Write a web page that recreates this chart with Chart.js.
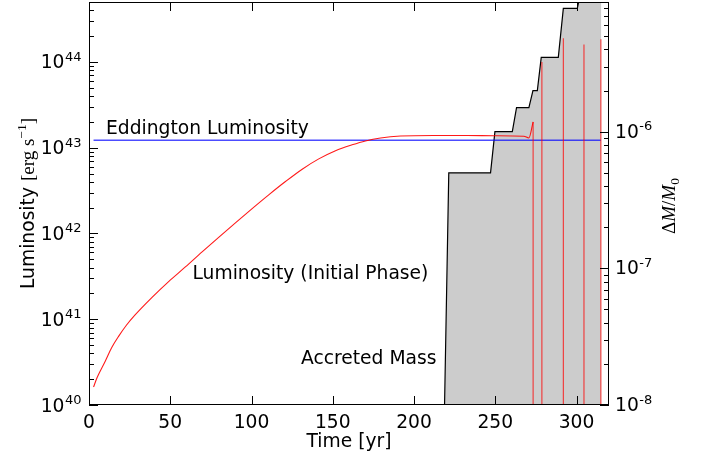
<!DOCTYPE html>
<html lang="en">
<head>
<meta charset="UTF-8">
<title>Luminosity and Accreted Mass</title>
<script src="https://cdn.jsdelivr.net/npm/chart.js"></script>
<style>
  html, body { margin: 0; padding: 0; background: #fff; }
</style>
</head>
<body>
<canvas id="chart" width="706" height="456"></canvas>
<script>
// luminosity [erg/s] against time [yr] in the initial phase
const lumTime = [2.8, 5, 10, 14, 18.2, 23, 28.5, 38.8, 49, 59.3, 69.6, 79.8, 90.1, 100.4, 110.6, 120.9, 131.2,
                 141.4, 151.7, 161.9, 170.1, 179.4, 191.7, 212, 233, 249, 267.6, 270.7, 273.3];
const lumValue = [1.62e40, 2.09e40, 3.24e40, 4.68e40, 6.31e40, 8.51e40, 1.13e41, 1.80e41, 2.75e41, 4.07e41,
                  6.10e41, 9.02e41, 1.33e42, 1.95e42, 2.82e42, 4.03e42, 5.62e42, 7.41e42, 9.23e42, 1.08e43,
                  1.20e43, 1.30e43, 1.37e43, 1.39e43, 1.39e43, 1.38e43, 1.36e43, 1.30e43, 2.0e43];

// later outbursts (luminosity drops far below the axis between them)
const burstTime = [273.3, 273.3, 278.7, 278.7, 278.7, 291.9, 291.9, 291.9, 304.6, 304.6, 304.6, 315.0, 315.0, 315.0];
const burstValue = [2.0e43, 1e36, 1e36, 1.0e44, 1e36, 1e36, 1.89e44, 1e36, 1e36, 1.6e44, 1e36, 1e36, 1.84e44, 1e36];

// Eddington luminosity
const eddTime = [2.8, 315];
const eddValue = [1.225e43, 1.225e43];

// accreted mass dM/M0 (right axis)
const massTime = [218.8, 221.4, 247.1, 249.8, 260.5, 263.1, 270.7, 273.2, 275.9, 278.3, 288.8, 291.9, 300.5, 303, 315.3];
const massValue = [1e-8, 5.0e-7, 5.0e-7, 1.0e-6, 1.0e-6, 1.5e-6, 1.5e-6, 2.0e-6, 2.0e-6, 3.5e-6, 3.5e-6,
                   8.0e-6, 8.0e-6, 1.1e-5, 1.1e-5];

// ticks
const timeTicks = [0, 50, 100, 150, 200, 250, 300];
const lumDecades = [40, 41, 42, 43, 44];
const massDecades = [-8, -7, -6];

const SANS = '"DejaVu Sans", sans-serif';
const SERIF = '"Liberation Serif", "DejaVu Serif", serif';
const FS = 18.7;

function pts(xs, ys) {
    return xs.map((x, i) => ({ x: x, y: ys[i] }));
}

function minorTicks(decades, max) {
    const out = [];
    decades.forEach(d => {
        for (let k = 2; k <= 9; k++) {
            const v = k * Math.pow(10, d);
            if (v < max) out.push(v);
        }
    });
    return out;
}

function power(ctx, exp, x, y, align) {
    ctx.font = FS + 'px ' + SANS;
    const wb = ctx.measureText('10').width;
    ctx.font = '13px ' + SANS;
    const we = ctx.measureText(exp).width;
    const x0 = align === 'right' ? x - wb - we : x;
    ctx.textAlign = 'left';
    ctx.textBaseline = 'alphabetic';
    ctx.font = FS + 'px ' + SANS;
    ctx.fillText('10', x0, y);
    ctx.font = '13px ' + SANS;
    ctx.fillText(exp, x0 + wb + 0.5, y - 7.5);
}

// draw pieces of text along the baseline, centred on 0
function pieces(ctx, parts) {
    let total = 0;
    parts.forEach(p => { ctx.font = p.font; p.w = ctx.measureText(p.text).width; total += p.w; });
    let x = -total / 2;
    parts.forEach(p => {
        ctx.font = p.font;
        ctx.fillText(p.text, x, p.dy || 0);
        x += p.w;
    });
}

const decor = {
    id: 'decor',
    afterDatasetsDraw(chart) {
        const ctx = chart.ctx;
        const a = chart.chartArea;
        const sx = chart.scales.x, sy = chart.scales.y, sy2 = chart.scales.y2;
        ctx.save();
        ctx.strokeStyle = '#000';
        ctx.fillStyle = '#000';
        ctx.lineWidth = 1;

        ctx.beginPath();
        timeTicks.forEach(t => {
            const px = Math.round(sx.getPixelForValue(t)) + 0.5;
            ctx.moveTo(px, a.bottom); ctx.lineTo(px, a.bottom - 9);
            ctx.moveTo(px, a.top); ctx.lineTo(px, a.top + 9);
        });
        lumDecades.forEach(d => {
            const py = Math.round(sy.getPixelForValue(Math.pow(10, d))) + 0.5;
            ctx.moveTo(a.left, py); ctx.lineTo(a.left + 9, py);
        });
        minorTicks(lumDecades, sy.max).forEach(v => {
            const py = Math.round(sy.getPixelForValue(v)) + 0.5;
            ctx.moveTo(a.left, py); ctx.lineTo(a.left + 5, py);
        });
        massDecades.forEach(d => {
            const py = Math.round(sy2.getPixelForValue(Math.pow(10, d))) + 0.5;
            ctx.moveTo(a.right, py); ctx.lineTo(a.right - 9, py);
        });
        minorTicks(massDecades, sy2.max).forEach(v => {
            const py = Math.round(sy2.getPixelForValue(v)) + 0.5;
            ctx.moveTo(a.right, py); ctx.lineTo(a.right - 5, py);
        });
        ctx.stroke();
        ctx.strokeRect(a.left + 0.5, a.top + 0.5, a.right - a.left - 1, a.bottom - a.top - 1);

        // tick labels
        lumDecades.forEach(d => {
            const py = sy.getPixelForValue(Math.pow(10, d));
            power(ctx, String(d), a.left - 8, py + 6.5, 'right');
        });
        massDecades.forEach(d => {
            const py = sy2.getPixelForValue(Math.pow(10, d));
            power(ctx, String(d), a.right + 6, py + 6, 'left');
        });

        // annotations
        ctx.font = FS + 'px ' + SANS;
        ctx.textAlign = 'left';
        ctx.textBaseline = 'alphabetic';
        ctx.fillText('Eddington Luminosity', 106, 134);
        ctx.fillText('Luminosity (Initial Phase)', 192.5, 279);
        ctx.fillText('Accreted Mass', 301, 364);

        // axis titles
        ctx.save();
        ctx.translate(33.5, (a.top + a.bottom) / 2);
        ctx.rotate(-Math.PI / 2);
        pieces(ctx, [
            { text: 'Luminosity ', font: FS + 'px ' + SANS },
            { text: '[erg s', font: '19px ' + SERIF },
            { text: '\u22121', font: '13.5px ' + SERIF, dy: -8 },
            { text: ']', font: '19px ' + SERIF }
        ]);
        ctx.restore();

        ctx.save();
        ctx.translate(675, 206);
        ctx.rotate(-Math.PI / 2);
        pieces(ctx, [
            { text: '\u0394', font: '19px ' + SERIF },
            { text: 'M', font: 'italic 19px ' + SERIF },
            { text: '/', font: '19px ' + SERIF },
            { text: 'M', font: 'italic 19px ' + SERIF },
            { text: '0', font: '13.5px ' + SERIF, dy: 4 }
        ]);
        ctx.restore();

        ctx.restore();
    }
};

new Chart(document.getElementById('chart'), {
    type: 'line',
    data: {
        datasets: [
            {
                label: 'Luminosity',
                data: pts(lumTime, lumValue),
                yAxisID: 'y',
                borderColor: 'rgba(255, 0, 0, 0.9)',
                borderWidth: 1.1,
                pointRadius: 0,
                cubicInterpolationMode: 'monotone',
                fill: false,
                order: 1
            },
            {
                label: 'Outbursts',
                data: pts(burstTime, burstValue),
                yAxisID: 'y',
                borderColor: 'rgba(255, 0, 0, 0.75)',
                borderWidth: 1.1,
                pointRadius: 0,
                tension: 0,
                fill: false,
                order: 1
            },
            {
                label: 'Eddington Luminosity',
                data: pts(eddTime, eddValue),
                yAxisID: 'y',
                borderColor: 'rgba(0, 0, 255, 0.7)',
                borderWidth: 1.5,
                pointRadius: 0,
                fill: false,
                order: 2
            },
            {
                label: 'Accreted Mass',
                data: pts(massTime, massValue),
                yAxisID: 'y2',
                borderColor: '#000',
                borderWidth: 1.2,
                backgroundColor: '#cccccc',
                pointRadius: 0,
                tension: 0,
                fill: 'start',
                order: 3
            }
        ]
    },
    options: {
        responsive: false,
        animation: false,
        devicePixelRatio: 1,
        layout: { padding: { top: 2, left: 0, right: 0, bottom: 0 } },
        plugins: {
            legend: { display: false },
            tooltip: { enabled: false }
        },
        scales: {
            x: {
                type: 'linear',
                position: 'bottom',
                min: 0,
                max: 320,
                grid: { display: false, drawTicks: false },
                border: { display: false },
                ticks: {
                    color: '#000',
                    font: { family: SANS, size: FS },
                    padding: 7,
                    autoSkip: false,
                    maxRotation: 0,
                    callback: v => String(v)
                },
                afterBuildTicks: s => { s.ticks = timeTicks.map(v => ({ value: v })); },
                afterFit: s => { s.height = 51; },
                title: {
                    display: true,
                    text: 'Time [yr]',
                    color: '#000',
                    font: { family: SANS, size: FS },
                    padding: { top: 0, bottom: 3 }
                }
            },
            y: {
                type: 'logarithmic',
                position: 'left',
                min: 1e40,
                max: 5e44,
                grid: { display: false, drawTicks: false },
                border: { display: false },
                ticks: { display: false },
                afterFit: s => { s.width = 89; }
            },
            y2: {
                type: 'logarithmic',
                position: 'right',
                min: 1e-8,
                max: 8.9e-6,
                grid: { display: false, drawTicks: false },
                border: { display: false },
                ticks: { display: false },
                afterFit: s => { s.width = 97; }
            }
        }
    },
    plugins: [decor]
});
</script>
</body>
</html>
